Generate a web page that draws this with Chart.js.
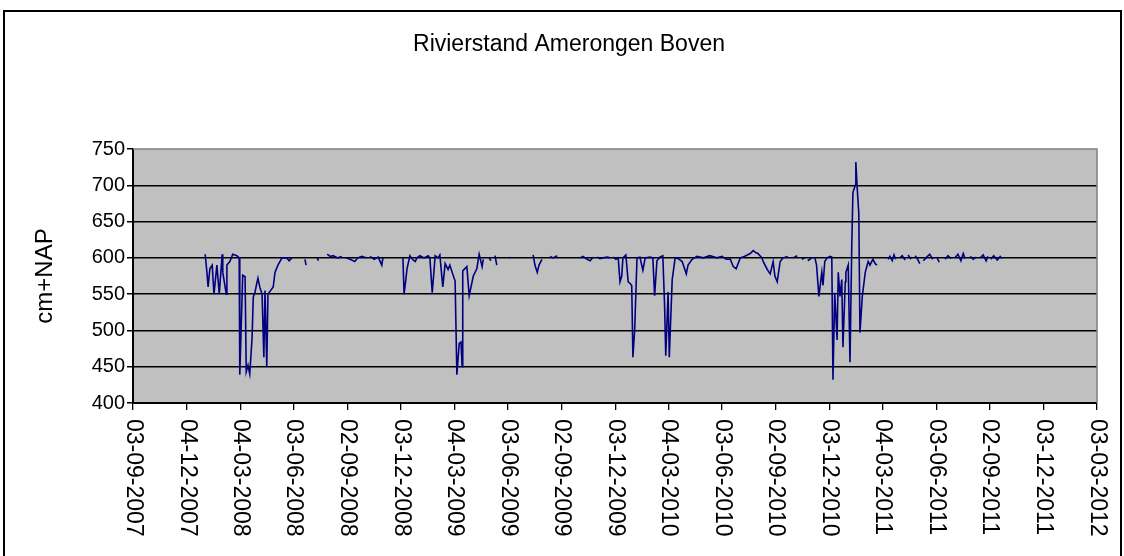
<!DOCTYPE html>
<html>
<head>
<meta charset="utf-8">
<script src="https://cdn.jsdelivr.net/npm/chart.js@4.4.1/dist/chart.umd.min.js"></script>
<style>
  html, body { margin: 0; padding: 0; background: #fff; }
  #wrap { position: relative; width: 1124px; height: 556px; }
</style>
</head>
<body>
<div id="wrap"><canvas id="myChart"></canvas></div>
<script>
var chartTitle = 'Rivierstand Amerongen Boven';

// date axis labels (dd-mm-yyyy)
var tickLabels = ['03-09-2007', '04-12-2007', '04-03-2008', '03-06-2008', '02-09-2008',
  '03-12-2008', '04-03-2009', '03-06-2009', '02-09-2009', '03-12-2009', '04-03-2010',
  '03-06-2010', '02-09-2010', '03-12-2010', '04-03-2011', '03-06-2011', '02-09-2011',
  '03-12-2011', '03-03-2012'];

var yTicks = [400, 450, 500, 550, 600, 650, 700, 750];

// days since 03-09-2007 and water level (cm+NAP); null level = no measurement
var dayOffsets = [
  123, 126, 128, 131, 135, 138, 143, 147, 152, 153, 159, 160, 165, 170, 177, 181, 182, 187, 191, 193,
  196, 199, 203, 205, 208, 211, 213, 216, 220, 223, 225, 228, 230, 239, 242, 247, 254, 262, 266, 271,
  280, 293, 295, 305, 314, 316, 322, 331, 336, 341, 349, 356, 360, 363, 370, 378, 383, 390, 397, 400,
  404, 411, 418, 424, 426, 440,
  460, 462, 465, 467, 472, 476, 481, 484, 489, 496, 503, 506, 510, 515, 520, 523, 528, 532, 537, 540,
  544, 549, 552, 556, 559, 561, 562, 569, 573, 580, 586, 590, 595, 597, 602, 607, 610, 613, 617, 620,
  630, 641, 643, 660,
  682, 685, 689, 692, 697, 704, 711, 716, 723, 740, 762, 767, 774, 779, 784, 788, 791, 796, 801, 808,
  813, 815,
  818, 823, 827, 830, 833, 835, 840, 844, 847, 850, 852, 855, 859, 864, 869, 873, 881, 886, 889, 893,
  898, 903, 906, 908, 912, 914, 919, 924, 929, 936, 943, 946, 953, 961, 972, 983, 995, 1004, 1011, 1018,
  1023, 1028, 1035, 1042, 1047, 1052, 1057, 1062, 1065, 1072, 1074, 1081, 1086, 1091, 1094, 1098, 1103, 1108, 1116, 1120,
  1125, 1132, 1136, 1140, 1145, 1147, 1150, 1157, 1160,
  1162, 1165, 1169, 1174, 1176, 1179, 1183, 1188, 1191, 1193, 1196, 1200, 1202, 1205, 1208, 1210, 1214, 1215, 1219, 1222,
  1225, 1227, 1231, 1232, 1234, 1237, 1239, 1243, 1248, 1253, 1256, 1261, 1265, 1268, 1278,
  1287, 1290, 1294, 1297, 1300, 1303, 1307, 1311, 1316, 1318, 1321, 1326, 1330, 1333, 1336, 1341, 1344, 1347, 1354, 1358,
  1363, 1366, 1370, 1374, 1380, 1384, 1389, 1394, 1397, 1401, 1406, 1411, 1415, 1418, 1422, 1427, 1432, 1437, 1440, 1444,
  1449, 1454, 1457, 1459, 1462, 1467, 1473, 1478, 1481
];
var levels = [
  605, 580, 560, 585, 590, 550, 590, 550, 605, 580, 550, 590, 595, 605, 603, 600, 439, 576, 574, 443,
  452, 440, 491, 546, 553, 565, 572, 560, 550, 463, 555, 450, 550, 560, 580, 590, 600, 600, 596, 600,
  null, 598, 590, null, 600, 596, null, 605, 602, 603, 600, 602, null, 600, 598, 595, 600, 602, 600, null,
  602, 598, 601, 590, 600, null,
  600, 550, 570, 585, 603, 598, 595, 600, 603, 600, 603, 600, 552, 603, 600, 604, 560, 592, 584, 590,
  580, 568, 439, 482, 484, 450, 582, 588, 548, 575, 585, 605, 588, 598, null, 600, 596, null, 603, 590,
  null, 600, 601, null,
  604, 590, 580, 590, 598, null, 602, 600, 603, null, 600, 602, 598, 596, 601, null, 601, 599, 600, 601,
  600, null,
  601, 598, 600, 567, 575, 600, 604, 567, 565, 562, 463, 500, 600, 601, 583, 600, 601, 600, 548, 596,
  601, 603, 535, 465, 553, 463, 570, 600, 599, 595, 578, 590, 598, 602, 600, 603, 600, 602, 598, 598,
  588, 585, 600, 602, 604, 606, 610, 607, 606, 600, 595, 584, 578, 595, 575, 567, 595, 600, 602, null,
  600, 603, null, 598, 600, null, 596, 600, null,
  601, 590, 547, 580, 562, 595, 600, 602, 601, 432, 552, 487, 580, 547, 570, 477, 567, 580, 590, 456,
  615, 690, 700, 732, 700, 662, 497, 547, 580, 595, 590, 598, 592, 590, null,
  598, 602, 596, 604, 598, null, 600, 603, 597, null, 604, 598, null, 603, 600, 592, null, 596, 602, 605,
  598, null, 601, 594, null, 598, 603, 599, null, 600, 605, 596, 606, 599, null, 602, 598, 601, null, 600,
  604, 596, 602, null, 598, 603, 597, 602, 599
];

function dayOf(label) {
  var p = label.split('-');
  var t0 = Date.UTC(2007, 8, 3);
  return Math.round((Date.UTC(+p[2], +p[1] - 1, +p[0]) - t0) / 86400000);
}
var tickDays = tickLabels.map(dayOf);

var points = dayOffsets.map(function(d, i) { return { x: d, y: levels[i] }; });

var FONT = "'Liberation Sans', Arial, sans-serif";

// grey plot area, frame, title and clockwise x labels
var excelLook = {
  id: 'excelLook',
  beforeDraw: function(chart) {
    var ctx = chart.ctx, a = chart.chartArea;
    ctx.save();
    ctx.fillStyle = '#fff';
    ctx.fillRect(0, 0, chart.width, chart.height);
    ctx.fillStyle = '#c0c0c0';
    ctx.fillRect(a.left, a.top, a.right - a.left, a.bottom - a.top);
    ctx.strokeStyle = '#000';
    ctx.lineWidth = 2;
    ctx.strokeRect(4, 11, 1117, 560);
    ctx.restore();
  },
  beforeDatasetsDraw: function(chart) {
    var ctx = chart.ctx, a = chart.chartArea;
    ctx.save();
    ctx.strokeStyle = '#808080';
    ctx.lineWidth = 1.5;
    ctx.beginPath();
    ctx.moveTo(a.left, a.top);
    ctx.lineTo(a.right, a.top);
    ctx.lineTo(a.right, a.bottom);
    ctx.stroke();
    ctx.restore();
  },
  afterDraw: function(chart) {
    var ctx = chart.ctx, xs = chart.scales.x, a = chart.chartArea;
    ctx.save();
    ctx.fillStyle = '#000';
    ctx.textAlign = 'center';
    ctx.textBaseline = 'middle';
    ctx.font = '23px ' + FONT;
    ctx.fillText(chartTitle, 569, 45);

    ctx.textAlign = 'left';
    tickLabels.forEach(function(lbl, i) {
      var px = xs.getPixelForValue(tickDays[i]);
      ctx.save();
      ctx.translate(px, a.bottom + 16);
      ctx.rotate(Math.PI / 2);
      ctx.fillText(lbl, 0, 0);
      ctx.restore();
    });
    ctx.restore();
  }
};

var ctx = document.getElementById('myChart').getContext('2d');
var myChart = new Chart(ctx, {
  type: 'line',
  data: {
    datasets: [{
      label: 'Rivierstand',
      data: points,
      borderColor: '#000080',
      borderWidth: 1.6,
      pointRadius: 0,
      tension: 0,
      spanGaps: false
    }]
  },
  options: {
    responsive: true,
    maintainAspectRatio: false,
    animation: false,
    layout: { padding: { top: 149, left: 0, right: 27, bottom: 0 } },
    plugins: {
      legend: { display: false },
      tooltip: { enabled: false },
      title: { display: false }
    },
    scales: {
      x: {
        type: 'linear',
        min: tickDays[0],
        max: tickDays[tickDays.length - 1],
        afterBuildTicks: function(scale) {
          scale.ticks = tickDays.map(function(v) { return { value: v }; });
        },
        afterFit: function(scale) { scale.height = 153; },
        ticks: { display: false },
        grid: { drawOnChartArea: false, drawTicks: true, tickLength: 7, color: '#000', lineWidth: 1.3 },
        border: { color: '#000', width: 2 }
      },
      y: {
        min: 400,
        max: 750,
        afterBuildTicks: function(scale) {
          scale.ticks = yTicks.map(function(v) { return { value: v }; });
        },
        afterFit: function(scale) { scale.width = 133; },
        ticks: { color: '#000', font: { family: FONT, size: 20 }, padding: 2 },
        grid: {
          color: function(c) { return (c.tick && c.tick.value === 750) ? 'rgba(0,0,0,0)' : '#000'; },
          tickColor: '#000',
          lineWidth: 1.5,
          tickLength: 6
        },
        border: { color: '#000', width: 2 },
        title: {
          display: true,
          text: 'cm+NAP',
          color: '#000',
          font: { family: FONT, size: 24 },
          padding: { top: 31 }
        }
      }
    }
  },
  plugins: [excelLook]
});
</script>
</body>
</html>
